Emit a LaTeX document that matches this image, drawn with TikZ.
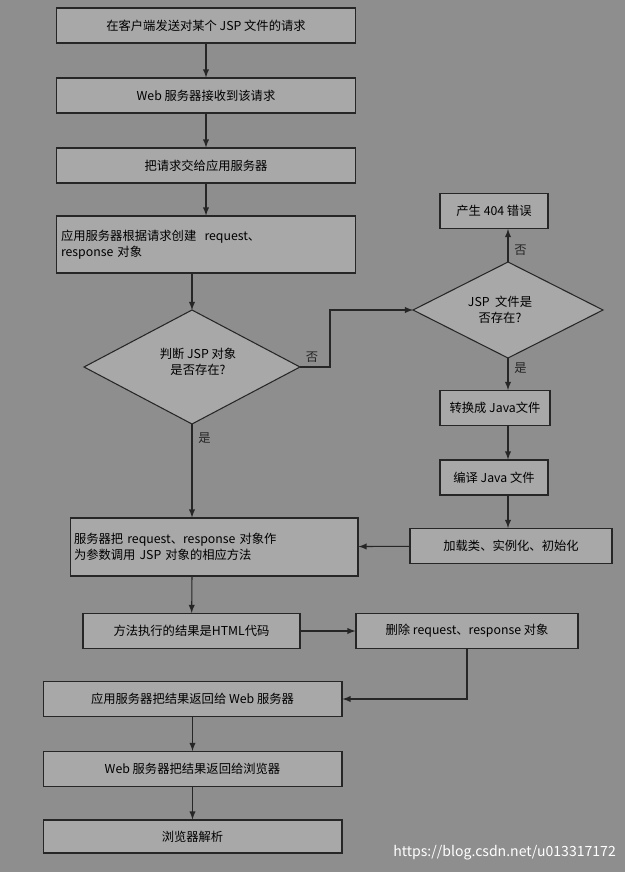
\documentclass[tikz,border=0pt]{standalone}
\usepackage{fontspec}
\setmainfont{Noto Sans CJK SC}
\usetikzlibrary{positioning}
\definecolor{bgGray}{RGB}{142,142,142}
\definecolor{boxGray}{RGB}{168,168,168}
\tikzset{
  stepbox/.style={draw=black!85,fill=boxGray,semithick,minimum height=0.7cm,font=\fontsize{7}{9}\selectfont,inner sep=2pt},
  wideBox/.style={stepbox,minimum width=5.98cm},
  lowBox/.style={stepbox,minimum width=5.98cm},
  decision/.style={draw=black!85,fill=boxGray,semithick,font=\fontsize{7}{9}\selectfont},
  flow/.style={-latex,semithick,black!85},
  lbl/.style={font=\fontsize{7}{9}\selectfont}
}
\begin{document}
\begin{tikzpicture}[x=0.02cm,y=-0.02cm]
  \fill[bgGray] (0,0) rectangle (625,872);
  % left column
  \node[wideBox] (send) at (206,25.5) {在客户端发送对某个 JSP 文件的请求};
  \node[wideBox] (recv) at (206,95.5) {Web 服务器接收到该请求};
  \node[wideBox] (hand) at (206,165.5) {把请求交给应用服务器};
  \node[wideBox,minimum height=1.14cm,align=left,text width=5.8cm] (make) at (206,244.5) {应用服务器根据请求创建 \ request、\\response 对象};
  \draw[decision] (84,367) -- (192,310) -- (300,367) -- (192,424) -- cycle;
  \node[lbl,align=center] (judge) at (198,362) {判断 JSP 对象\\是否存在?};
  \coordinate (jtop) at (192,310);
  \coordinate (jright) at (300,367);
  \coordinate (jbot) at (192,424);
  \node[wideBox,minimum width=5.76cm,minimum height=1.16cm,align=left,text width=5.6cm] (call) at (214,547) {服务器把 request、response 对象作\\为参数调用 JSP 对象的相应方法};
  \node[stepbox,minimum width=4.34cm] (html) at (191.5,631) {方法执行的结果是HTML代码};
  \node[lowBox] (back) at (192.5,699) {应用服务器把结果返回给 Web 服务器};
  \node[lowBox] (brow) at (192.5,769) {Web 服务器把结果返回给浏览器};
  \node[lowBox,minimum height=0.66cm] (parse) at (192.5,836.5) {浏览器解析};
  % right column
  \node[stepbox,minimum width=2.16cm] (err) at (494,211) {产生 404 错误};
  \draw[decision] (413,310) -- (508,262) -- (603,310) -- (508,358) -- cycle;
  \node[lbl,align=center] (exist) at (500,310) {JSP \ 文件是\\否存在?};
  \coordinate (etop) at (508,262);
  \coordinate (eleft) at (413,310);
  \coordinate (ebot) at (508,358);
  \node[stepbox,minimum width=2.2cm] (conv) at (495,408) {转换成 Java文件};
  \node[stepbox,minimum width=2.16cm] (comp) at (494,477.5) {编译 Java 文件};
  \node[stepbox,minimum width=4.04cm] (load) at (511,546) {加载类、实例化、初始化};
  \node[stepbox,minimum width=4.44cm] (del) at (467,631) {删除 request、response 对象};
  % arrows
  \draw[flow] (send) -- (recv);
  \draw[flow] (recv) -- (hand);
  \draw[flow] (hand) -- (make);
  \draw[flow] (make.south -| jtop) -- (jtop);
  \draw[flow] (jbot) -- node[lbl,pos=0.15,right] {是} (call.north -| jbot);
  \draw[flow] (jright) -- node[lbl,pos=0.4,above=-1pt] {否} (330,367) |- (eleft);
  \draw[flow] (etop) -- node[lbl,pos=0.35,right] {否} (err.south -| etop);
  \draw[flow] (ebot) -- node[lbl,pos=0.3,right] {是} (conv.north -| ebot);
  \draw[flow] (conv.south -| ebot) -- (comp.north -| ebot);
  \draw[flow] (comp.south -| ebot) -- (load.north -| ebot);
  \draw[flow] (load) -- (call);
  \draw[flow] (call.south -| jbot) -- (html);
  \draw[flow] (html) -- (del);
  \draw[flow] (del.south) |- (back);
  \draw[flow] (back) -- (brow);
  \draw[flow] (brow) -- (parse);
  \node[text=white,font=\fontsize{8}{10}\selectfont,anchor=east] (mark) at (622,853) {https://blog.csdn.net/u013317172};
\end{tikzpicture}
\end{document}
